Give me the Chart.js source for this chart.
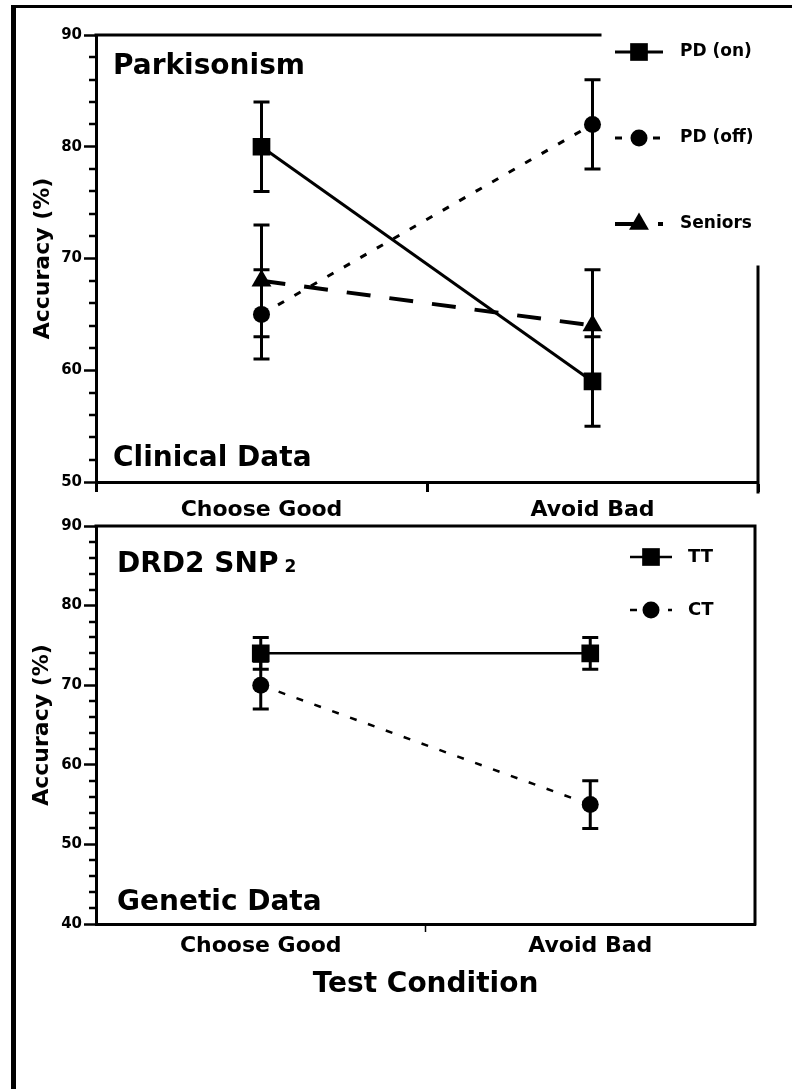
<!DOCTYPE html>
<html>
<head>
<meta charset="utf-8">
<title>Accuracy by test condition</title>
<script src="https://cdn.jsdelivr.net/npm/chart.js@4.4.1/dist/chart.umd.min.js"></script>
<style>
  html, body { margin: 0; padding: 0; background: #fff; }
  #page { position: relative; width: 792px; height: 1089px; overflow: hidden; background: #fff; }
  #frame { position: absolute; left: 11px; top: 5px; width: 800px; height: 1100px; border-left: 5px solid #000; border-top: 3px solid #000; }
  canvas { position: absolute; left: 0; }
  #clinical-chart { top: 0; }
  #genetic-chart { top: 500px; }
</style>
</head>
<body>
<div id="page">
  <div id="frame"></div>
  <canvas id="clinical-chart" width="792" height="525"></canvas>
  <canvas id="genetic-chart" width="792" height="589"></canvas>
</div>
<script>
// Accuracy (%) per test condition
const conditions = ["Choose Good", "Avoid Bad"];

// Clinical data (Parkisonism)
const pdOn = [80, 59];
const pdOnErr = [4, 4];
const pdOff = [65, 82];
const pdOffErr = [4, 4];
const seniors = [68, 64];
const seniorsErr = [5, 5];
const clinicalRange = [50, 90];

// Genetic data (DRD2 SNP2)
const tt = [74, 74];
const ttErr = [2, 2];
const ct = [70, 55];
const ctErr = [3, 3];
const geneticRange = [40, 90];

const FONT = "'DejaVu Sans', sans-serif";
Chart.defaults.font.family = FONT;
Chart.defaults.font.weight = "bold";
Chart.defaults.color = "#000";

// Error bars drawn from the y scale, under the markers
const errorBarPlugin = {
  id: "errorBars",
  beforeDatasetsDraw(chart, args, opts) {
    const ctx = chart.ctx;
    const yScale = chart.scales.y;
    ctx.save();
    ctx.strokeStyle = "#000";
    ctx.lineWidth = opts.lineWidth;
    chart.data.datasets.forEach(function (ds, di) {
      if (!ds.errors) return;
      const meta = chart.getDatasetMeta(di);
      ds.data.forEach(function (v, i) {
        const x = meta.data[i].x;
        const yHi = yScale.getPixelForValue(v + ds.errors[i]);
        const yLo = yScale.getPixelForValue(v - ds.errors[i]);
        ctx.beginPath();
        ctx.moveTo(x, yHi);
        ctx.lineTo(x, yLo);
        ctx.moveTo(x - opts.capWidth, yHi);
        ctx.lineTo(x + opts.capWidth, yHi);
        ctx.moveTo(x - opts.capWidth, yLo);
        ctx.lineTo(x + opts.capWidth, yLo);
        ctx.stroke();
      });
    });
    ctx.restore();
  },
};

// Short minor ticks on the y axis
const minorTickPlugin = {
  id: "minorTicks",
  afterDraw(chart, args, opts) {
    const ctx = chart.ctx;
    const yScale = chart.scales.y;
    const left = chart.chartArea.left;
    ctx.save();
    ctx.strokeStyle = "#000";
    ctx.lineWidth = 2.5;
    yScale.ticks.forEach(function (t) {
      if (t.value % opts.majorStep === 0) return;
      const py = Math.round(yScale.getPixelForValue(t.value));
      ctx.beginPath();
      ctx.moveTo(left - opts.length, py);
      ctx.lineTo(left, py);
      ctx.stroke();
    });
    ctx.restore();
  },
};

// Top and right sides of the plot box
const framePlugin = {
  id: "frame",
  afterDraw(chart, args, opts) {
    const { left, top, right, bottom } = chart.chartArea;
    const ctx = chart.ctx;
    ctx.save();
    ctx.strokeStyle = "#000";
    ctx.lineWidth = 3;
    ctx.lineCap = "square";
    ctx.beginPath();
    ctx.moveTo(left, top);
    ctx.lineTo(right - opts.topCut, top);
    ctx.moveTo(right, top + opts.rightCut);
    ctx.lineTo(right, bottom + opts.rightExtend);
    ctx.stroke();
    ctx.restore();
  },
};

// Legend with line sample and marker for each dataset
const sideLegendPlugin = {
  id: "sideLegend",
  afterDraw(chart, args, opts) {
    const ctx = chart.ctx;
    const x0 = chart.chartArea.right - opts.fromRight;
    const x1 = x0 + opts.lineLength;
    chart.data.datasets.forEach(function (ds, i) {
      const y = chart.chartArea.top + opts.fromTop + i * opts.rowGap;
      ctx.save();
      ctx.strokeStyle = "#000";
      ctx.fillStyle = "#000";
      ctx.lineWidth = ds.borderWidth;
      ctx.setLineDash(ds.borderDash || []);
      ctx.beginPath();
      ctx.moveTo(x0, y);
      ctx.lineTo(x1, y);
      ctx.stroke();
      ctx.setLineDash([]);
      Chart.helpers.drawPoint(ctx, {
        pointStyle: ds.pointStyle,
        radius: ds.pointRadius,
        rotation: 0,
        borderWidth: 0,
      }, (x0 + x1) / 2, y);
      ctx.font = "bold " + opts.fontSize + "px " + FONT;
      ctx.textBaseline = "middle";
      ctx.textAlign = "left";
      ctx.fillText(ds.label, x1 + opts.textGap, y);
      ctx.restore();
    });
  },
};

// Panel labels inside the plot box
const panelTextPlugin = {
  id: "panelText",
  afterDraw(chart, args, opts) {
    const ctx = chart.ctx;
    const area = chart.chartArea;
    ctx.save();
    ctx.fillStyle = "#000";
    ctx.textBaseline = "alphabetic";
    ctx.textAlign = "left";
    opts.items.forEach(function (item) {
      const y = item.fromBottom != null ? area.bottom - item.fromBottom : area.top + item.fromTop;
      let x = area.left + item.fromLeft;
      ctx.font = "bold " + item.size + "px " + FONT;
      ctx.fillText(item.text, x, y);
      if (item.sub) {
        x += ctx.measureText(item.text).width + 6;
        ctx.font = "bold " + item.subSize + "px " + FONT;
        ctx.fillText(item.sub, x, y);
      }
    });
    ctx.restore();
  },
};

function lineSet(label, values, errors, style) {
  return Object.assign({
    label: label,
    data: values,
    errors: errors,
    borderColor: "#000",
    backgroundColor: "#000",
    pointBackgroundColor: "#000",
    pointBorderWidth: 0,
    pointHoverRadius: 0,
    tension: 0,
    fill: false,
  }, style);
}

function buildOptions(range, cfg) {
  return {
    responsive: false,
    animation: false,
    events: [],
    layout: { padding: { left: 0, top: cfg.padTop, right: cfg.padRight, bottom: 0 } },
    scales: {
      x: {
        type: "category",
        offset: true,
        afterFit: function (scale) { scale.height = cfg.xHeight; },
        border: { display: true, color: "#000", width: 3 },
        grid: {
          offset: true,
          drawOnChartArea: false,
          drawTicks: true,
          tickLength: cfg.xTickLength,
          tickWidth: cfg.xTickWidth,
          tickColor: cfg.xTickColor,
          color: "#000",
        },
        ticks: { padding: cfg.xTickPadding, maxRotation: 0, color: "#000", font: { size: 22, weight: "bold" } },
        title: cfg.xTitle,
      },
      y: {
        min: range[0],
        max: range[1],
        afterFit: function (scale) { scale.width = 96; },
        border: { display: true, color: "#000", width: 3 },
        grid: {
          drawOnChartArea: false,
          drawTicks: true,
          tickLength: 12,
          tickWidth: 2.5,
          color: "#000",
          tickColor: function (c) {
            return c.tick && c.tick.value % 10 === 0 ? "#000" : "rgba(0,0,0,0)";
          },
        },
        ticks: {
          stepSize: 2,
          maxTicksLimit: 100,
          autoSkip: false,
          padding: 2,
          color: "#000",
          font: { size: 15, weight: "bold" },
          callback: function (v) { return v % 10 === 0 ? v : ""; },
        },
        title: {
          display: true,
          text: "Accuracy (%)",
          color: "#000",
          font: { size: 22, weight: "bold" },
          padding: { top: cfg.yTitlePad, bottom: 0 },
        },
      },
    },
    plugins: {
      legend: { display: false },
      tooltip: { enabled: false },
      errorBars: { lineWidth: 3, capWidth: 8 },
      minorTicks: { majorStep: 10, length: 7 },
      frame: cfg.frame,
      sideLegend: cfg.legend,
      panelText: { items: cfg.texts },
    },
  };
}

const chartPlugins = [errorBarPlugin, minorTickPlugin, framePlugin, sideLegendPlugin, panelTextPlugin];

// Top panel: clinical data
new Chart(document.getElementById("clinical-chart").getContext("2d"), {
  type: "line",
  data: {
    labels: conditions,
    datasets: [
      lineSet("PD (on)", pdOn, pdOnErr, { borderWidth: 3, pointStyle: "rect", pointRadius: 12.5 }),
      lineSet("PD (off)", pdOff, pdOffErr, { borderWidth: 3, borderDash: [7, 12], pointStyle: "circle", pointRadius: 8.5 }),
      lineSet("Seniors", seniors, seniorsErr, { borderWidth: 4, borderDash: [24, 19], pointStyle: "triangle", pointRadius: 11.5 }),
    ],
  },
  options: buildOptions(clinicalRange, {
    padTop: 35,
    padRight: 34,
    xHeight: 43,
    xTickLength: 10,
    xTickWidth: 3,
    xTickColor: "#000",
    xTickPadding: 5,
    xTitle: { display: false },
    yTitlePad: 30,
    frame: { topCut: 158, rightCut: 232, rightExtend: 10 },
    legend: { fromRight: 143, fromTop: 17, rowGap: 86, lineLength: 48, textGap: 17, fontSize: 17 },
    texts: [
      { text: "Parkisonism", fromLeft: 17, fromTop: 39, size: 28 },
      { text: "Clinical Data", fromLeft: 17, fromBottom: 16, size: 28 },
    ],
  }),
  plugins: chartPlugins,
});

// Bottom panel: genetic data
new Chart(document.getElementById("genetic-chart").getContext("2d"), {
  type: "line",
  data: {
    labels: conditions,
    datasets: [
      lineSet("TT", tt, ttErr, { borderWidth: 2.5, pointStyle: "rect", pointRadius: 12.5 }),
      lineSet("CT", ct, ctErr, { borderWidth: 2.5, borderDash: [7, 12], pointStyle: "circle", pointRadius: 8.5 }),
    ],
  },
  options: buildOptions(geneticRange, {
    padTop: 26,
    padRight: 37,
    xHeight: 165,
    xTickLength: 8,
    xTickWidth: 1.5,
    xTickColor: function (c) { return c.index === 1 ? "#000" : "rgba(0,0,0,0)"; },
    xTickPadding: 1,
    xTitle: {
      display: true,
      text: "Test Condition",
      color: "#000",
      font: { size: 28, weight: "bold" },
      padding: { top: 0, bottom: 87 },
    },
    yTitlePad: 29,
    frame: { topCut: 0, rightCut: 0, rightExtend: 0 },
    legend: { fromRight: 125, fromTop: 31, rowGap: 53, lineLength: 42, textGap: 16, fontSize: 18 },
    texts: [
      { text: "DRD2 SNP", sub: "2", subSize: 17, fromLeft: 21, fromTop: 46, size: 28 },
      { text: "Genetic Data", fromLeft: 21, fromBottom: 14, size: 28 },
    ],
  }),
  plugins: chartPlugins,
});
</script>
</body>
</html>
